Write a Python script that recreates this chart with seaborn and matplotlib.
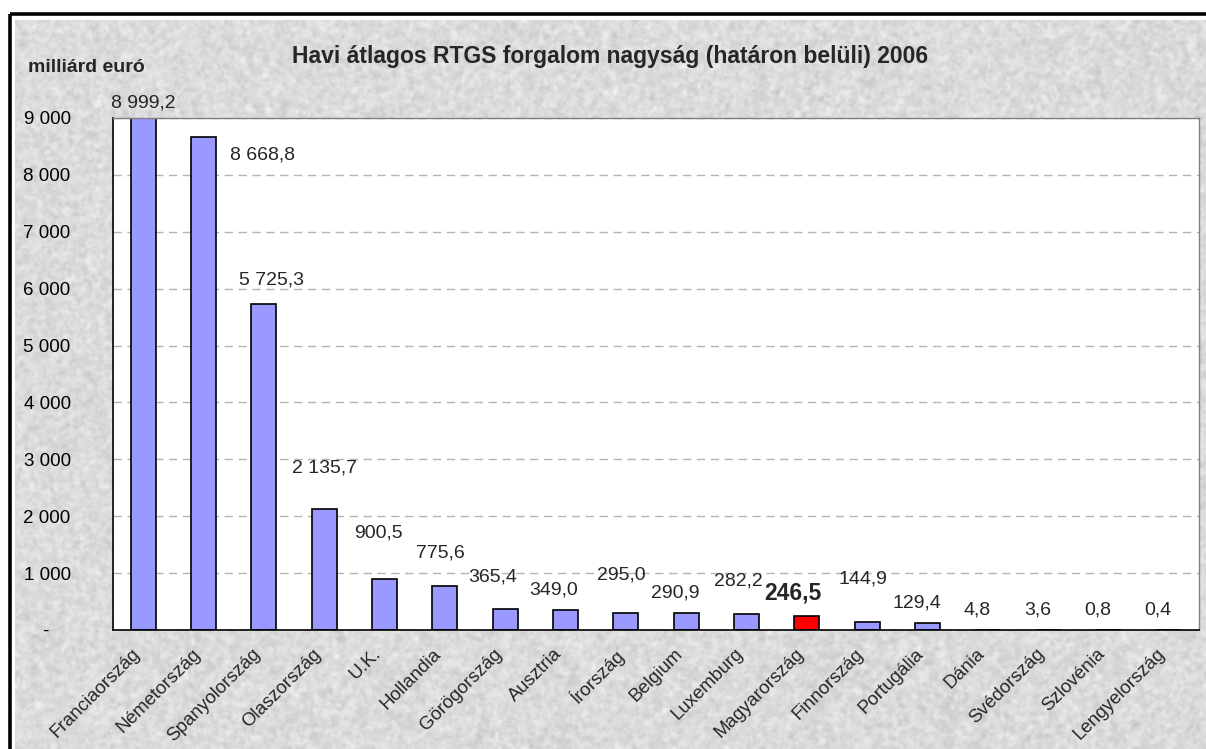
import matplotlib
matplotlib.use("Agg")
import matplotlib.pyplot as plt
from matplotlib.patches import Rectangle
from matplotlib.transforms import ScaledTranslation
import numpy as np
import pandas as pd
import seaborn as sns

# ── Data ────────────────────────────────────
COUNTRIES = [
    "Franciaország", "Németország", "Spanyolország", "Olaszország", "U.K.",
    "Hollandia", "Görögország", "Ausztria", "Írország", "Belgium", "Luxemburg",
    "Magyarország", "Finnország", "Portugália", "Dánia", "Svédország",
    "Szlovénia", "Lengyelország",
]
VALUES = [
    8999.2, 8668.8, 5725.3, 2135.7, 900.5, 775.6, 365.4, 349.0, 295.0,
    290.9, 282.2, 246.5, 144.9, 129.4, 4.8, 3.6, 0.8, 0.4,
]
HIGHLIGHT = "Magyarország"
Y_TICKS = [0, 1000, 2000, 3000, 4000, 5000, 6000, 7000, 8000, 9000]

TITLE = "Havi átlagos RTGS forgalom nagyság (határon belüli) 2006"
UNIT = "milliárd euró"

# label placement, copied from the original Excel layout
LABEL_DX = [0.0, 0.97, 0.12, 0.0, -0.1, -0.08, -0.2, -0.2, -0.08, -0.18,
            -0.13, -0.23, -0.07, -0.17, -0.18, -0.18, -0.18, -0.18]
LABEL_Y = [9264, 8350, 6152, 2848, 1705, 1354, 932, 703, 967, 650,
           861, 650, 897, 475, 352, 352, 352, 352]

BAR_COLOR = "#9999ff"
HL_COLOR = "#ff0000"

W, H = 1206, 749


def hu_fmt(v, decimals=1):
    s = f"{v:,.{decimals}f}"
    return s.replace(",", " ").replace(".", ",")


def texture(h, w):
    """Light grey granite-like background, deterministic hash noise."""
    yy, xx = np.mgrid[0:h, 0:w].astype(float)
    n = np.sin(xx * 12.9898 + yy * 78.233) * 43758.5453
    n = n - np.floor(n)

    def smooth(a, k):
        for _ in range(k):
            a = (a + np.roll(a, 1, 0) + np.roll(a, -1, 0)
                 + np.roll(a, 1, 1) + np.roll(a, -1, 1)) / 5
        return a

    fine = smooth(n.copy(), 1)
    mid = smooth(n.copy(), 4)
    coarse = smooth(n.copy(), 12)
    parts = [(p - p.mean()) / p.std() for p in (fine, mid, coarse)]
    g = 0.86 + 0.005 * parts[0] + 0.008 * parts[1] + 0.011 * parts[2]
    g = np.clip(g, 0, 1)
    return np.dstack([g, g, g])


sns.set_style("white")
plt.rcParams["font.family"] = ["Liberation Sans", "DejaVu Sans"]

fig = plt.figure(figsize=(W / 100, H / 100), dpi=100)
fig.patch.set_facecolor("white")

# background frame with texture
bg = fig.add_axes([0, 0, 1, 1])
bg.set_zorder(-1)
bg.imshow(texture(H - 20, W - 15), extent=(15, W, H, 20),
          interpolation="bilinear", aspect="auto")
bg.add_patch(Rectangle((9.8, 13.8), W + 20, H + 20, fill=False,
                       edgecolor="black", lw=2.6))
bg.set_xlim(0, W)
bg.set_ylim(H, 0)
bg.axis("off")

ax = fig.add_axes([113 / W, 1 - 630 / H, (1199 - 113) / W, (630 - 118) / H])
ax.set_facecolor("white")

df = pd.DataFrame({"country": COUNTRIES, "value": VALUES})
palette = {c: (HL_COLOR if c == HIGHLIGHT else BAR_COLOR) for c in COUNTRIES}
sns.barplot(data=df, x="country", y="value", hue="country", palette=palette,
            legend=False, width=0.41, edgecolor="black", linewidth=1.2,
            saturation=1, ax=ax)

ax.set_xlim(-0.5, len(COUNTRIES) - 0.5)
ax.set_ylim(0, 9000)

# grid
ax.set_axisbelow(True)
ax.yaxis.grid(True, color="#b4b4b4", linestyle=(0, (6, 4)), lw=1)
ax.xaxis.grid(False)

# spines
for side in ["top", "right"]:
    ax.spines[side].set_color("#808080")
    ax.spines[side].set_linewidth(1)
for side in ["left", "bottom"]:
    ax.spines[side].set_color("black")
    ax.spines[side].set_linewidth(1.2)

# y axis
ax.set_yticks(Y_TICKS)
ax.set_yticklabels(["-    " if t == 0 else hu_fmt(t, 0) for t in Y_TICKS])
ax.tick_params(axis="y", direction="out", length=5, width=1, pad=25.5,
               labelsize=13.5, colors="black")

# x axis: ticks at category borders, labels at centers
ax.set_xticks(range(len(COUNTRIES)))
ax.set_xticklabels(COUNTRIES, rotation=45, ha="right",
                   rotation_mode="anchor", fontsize=13.5)
ax.set_xticks(np.arange(-0.5, len(COUNTRIES), 1), minor=True)
ax.tick_params(axis="x", which="major", length=0, pad=11)
ax.tick_params(axis="x", which="minor", direction="out", length=5, width=1,
               colors="black")
# nudge the slanted labels left, as Excel does (after tick_params)
shift = ScaledTranslation(-12 / 100, 0, fig.dpi_scale_trans)
for lab in ax.get_xticklabels():
    lab.set_transform(lab.get_transform() + shift)
ax.set_xlabel("")
ax.set_ylabel("")

# value labels
for i, (c, v) in enumerate(zip(COUNTRIES, VALUES)):
    bold = c == HIGHLIGHT
    ax.text(i + LABEL_DX[i], LABEL_Y[i], hu_fmt(v), ha="center", va="center",
            fontsize=16.5 if bold else 14,
            fontweight="bold" if bold else "normal", clip_on=False)

fig.text(610 / W, 1 - 57 / H, TITLE, ha="center", va="center",
         fontsize=16.5, fontweight="bold")
fig.text(28 / W, 1 - 67 / H, UNIT, ha="left", va="center",
         fontsize=14, fontweight="bold")

fig.savefig("out.png", dpi=100)
